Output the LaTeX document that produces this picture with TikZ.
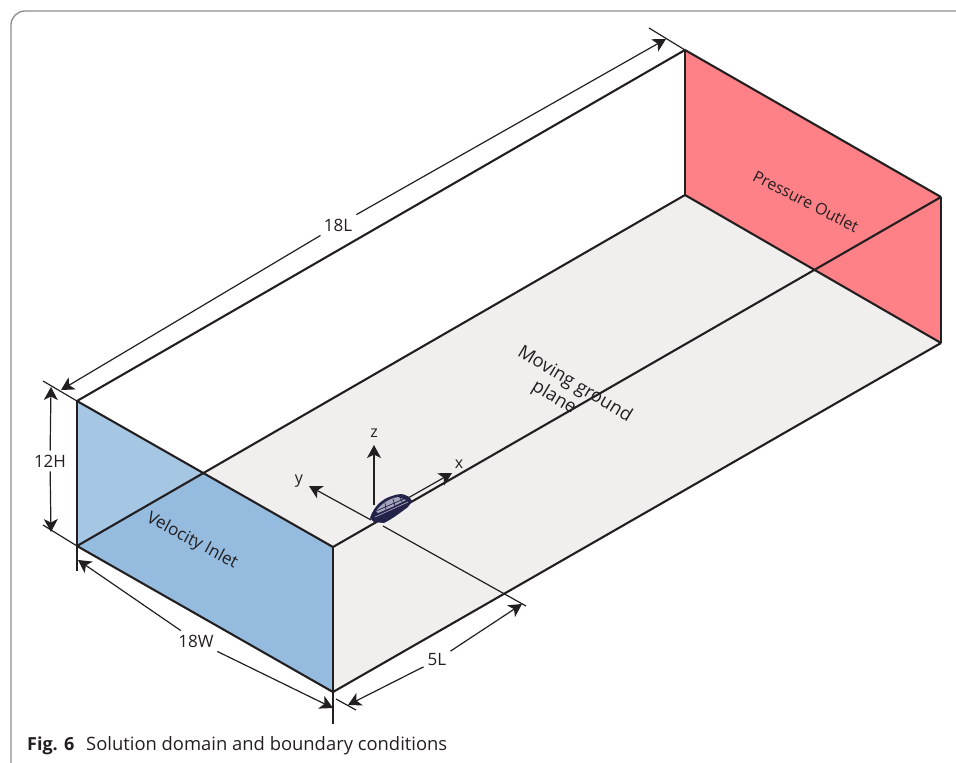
\documentclass[tikz,border=0pt]{standalone}
\usepackage{fontspec}
\setmainfont{Open Sans}
\usetikzlibrary{arrows.meta}
\definecolor{edgeblack}{HTML}{231F20}
\definecolor{floorgray}{HTML}{F0EFEE}
\definecolor{inletblue}{HTML}{95BCDF}
\definecolor{inletlight}{HTML}{A6C7E3}
\definecolor{outletred}{HTML}{FF8188}
\definecolor{framegray}{HTML}{8C8C8C}
\definecolor{carnavy}{HTML}{23234A}
\definecolor{carglass}{HTML}{A4A4BC}
\tikzset{
  edge/.style={draw=edgeblack,line width=2.1pt,line join=round},
  tick/.style={draw=edgeblack,line width=1.2pt},
  dim/.style={draw=edgeblack,line width=1.2pt,-{Stealth[length=13pt,width=14pt,inset=3.5pt]}},
  dimlabel/.style={font=\fontsize{17}{17}\selectfont,text=edgeblack,inner sep=4pt},
  facelabel/.style={font=\fontsize{17}{22}\selectfont,text=edgeblack,inner sep=0pt,align=center},
  axislabel/.style={font=\fontsize{16}{16}\selectfont,text=edgeblack,inner sep=0pt}
}
\begin{document}
\begin{tikzpicture}[x=1pt,y=-1pt]
  \useasboundingbox (0,0) rectangle (956,763);
  \draw[framegray,line width=1.3pt,rounded corners=14pt] (956,11) -- (11,11) -- (11,763);
  \path
    (77,401) coordinate (inTL)
    (77,546) coordinate (inBL)
    (333,547) coordinate (inTR)
    (333,692) coordinate (inBR)
    (203,473) coordinate (inX)
    (685,50) coordinate (outTL)
    (685,195) coordinate (outBL)
    (941,197) coordinate (outTR)
    (941,343) coordinate (outBR);
  % faces
  \fill[floorgray] (inBL) -- (outBL) -- (outBR) -- (inBR) -- cycle;
  \fill[outletred] (outTL) -- (outTR) -- (outBR) -- (outBL) -- cycle;
  \fill[inletblue] (inTL) -- (inTR) -- (inBR) -- (inBL) -- cycle;
  \fill[inletlight] (inTL) -- (inX) -- (inBL) -- cycle;
  % box edges
  \draw[edge] (inTL) -- (outTL);
  \draw[edge] (inBL) -- (outBL);
  \draw[edge] (inTR) -- (outTR);
  \draw[edge] (inBR) -- (outBR);
  \draw[edge] (inTL) -- (inTR);
  \draw[edge] (inBL) -- (inBR);
  \draw[edge] (outTL) -- (outTR);
  \draw[edge] (outBL) -- (outBR);
  \draw[edge] (outTL) -- (outBL);
  \draw[edge] (inTR) -- (inBR);
  \draw[edge,line width=2.6pt] (inTL) -- (inBL);
  \draw[edge,line width=2.6pt] (outTR) -- (outBR);
  % ticks
  \path
    (649,28) coordinate (t18La)
    (43,381) coordinate (t12Ha)
    (43,525) coordinate (t12Hb)
    (77,571) coordinate (t18Wa)
    (333,724) coordinate (t18Wb)
    (336,699) coordinate (t5La)
    (356,710) coordinate (t5Lb)
    (383,526) coordinate (t5Lc)
    (526,606) coordinate (t5Ld);
  \draw[tick] (t18La) -- (outTL);
  \draw[tick] (t12Ha) -- (inTL);
  \draw[tick] (t12Hb) -- (inBL);
  \draw[tick] (inBL) -- (t18Wa);
  \draw[tick] (inBR) -- (t18Wb);
  \draw[tick] (t5La) -- (t5Lb);
  \draw[tick] (t5Lc) -- (t5Ld);
  % dimensions
  \node[dimlabel] (lab18L) at (338,225) {18L};
  \node[dimlabel] (lab12H) at (50,461) {12H};
  \node[dimlabel] (lab18W) at (196,641) {18W};
  \node[dimlabel] (lab5L) at (437,660) {5L};
  \path
    (61,390) coordinate (e18La)
    (666,39) coordinate (e18Lb)
    (51,387) coordinate (e12Ha)
    (51,532) coordinate (e12Hb)
    (78,560) coordinate (e18Wa)
    (333,708) coordinate (e18Wb)
    (348,705) coordinate (e5La)
    (522,604) coordinate (e5Lb);
  \foreach \lab/\tipa/\tipb in {lab18L/e18La/e18Lb,lab12H/e12Ha/e12Hb,lab18W/e18Wa/e18Wb,lab5L/e5La/e5Lb} {
    \draw[dim] (\lab) -- (\tipa);
    \draw[dim] (\lab) -- (\tipb);
  }
  % axes
  \node[axislabel] (labz) at (374,433) {z};
  \node[axislabel] (laby) at (299,481) {y};
  \node[axislabel] (labx) at (459,464) {x};
  \path
    (374,445) coordinate (ztip)
    (374,505) coordinate (zbase)
    (309,486) coordinate (ytip)
    (371,520) coordinate (ybase)
    (452,473) coordinate (xtip)
    (408,498) coordinate (xbase);
  \draw[dim] (zbase) -- (ztip);
  \draw[dim] (ybase) -- (ytip);
  \draw[dim] (xbase) -- (xtip);
  % car
  \fill[carnavy] (370,518) .. controls (374,506) and (382,499) .. (392,496)
    .. controls (400,493) and (408,493) .. (412,501) -- (408,507)
    .. controls (400,513) and (392,519) .. (384,523) -- (374,522) -- cycle;
  \fill[carglass] (376,511) .. controls (381,504) and (390,498) .. (398,497)
    -- (406,500) -- (392,507) -- (378,513) -- cycle;
  \draw[carnavy,line width=0.7pt] (376,511) -- (406,498)
    (385,503) -- (386,510) (393,499) -- (395,506) (400,497) -- (402,502);
  \draw[carglass,line width=0.7pt] (375,517) -- (408,502);
  % face labels
  \node[facelabel,rotate=-28] (inlet) at (192,541) {Velocity Inlet};
  \node[facelabel,font=\fontsize{16}{18}\selectfont,rotate=-27] (outlet) at (806,201) {Pressure Outlet};
  \node[facelabel,font=\fontsize{18.4}{22}\selectfont,rotate=-31] (ground) at (569,394) {Moving ground\\plane\hspace*{22pt}};
  % caption
  \node[anchor=base west,inner sep=0pt,font=\fontsize{18}{18}\selectfont\bfseries,text=edgeblack] (figno) at (27,750) {Fig. 6};
  \node[anchor=base west,inner sep=0pt,font=\fontsize{18.4}{18}\selectfont,text=edgeblack] (figcap) at (86,750) {Solution domain and boundary conditions};
\end{tikzpicture}
\end{document}
